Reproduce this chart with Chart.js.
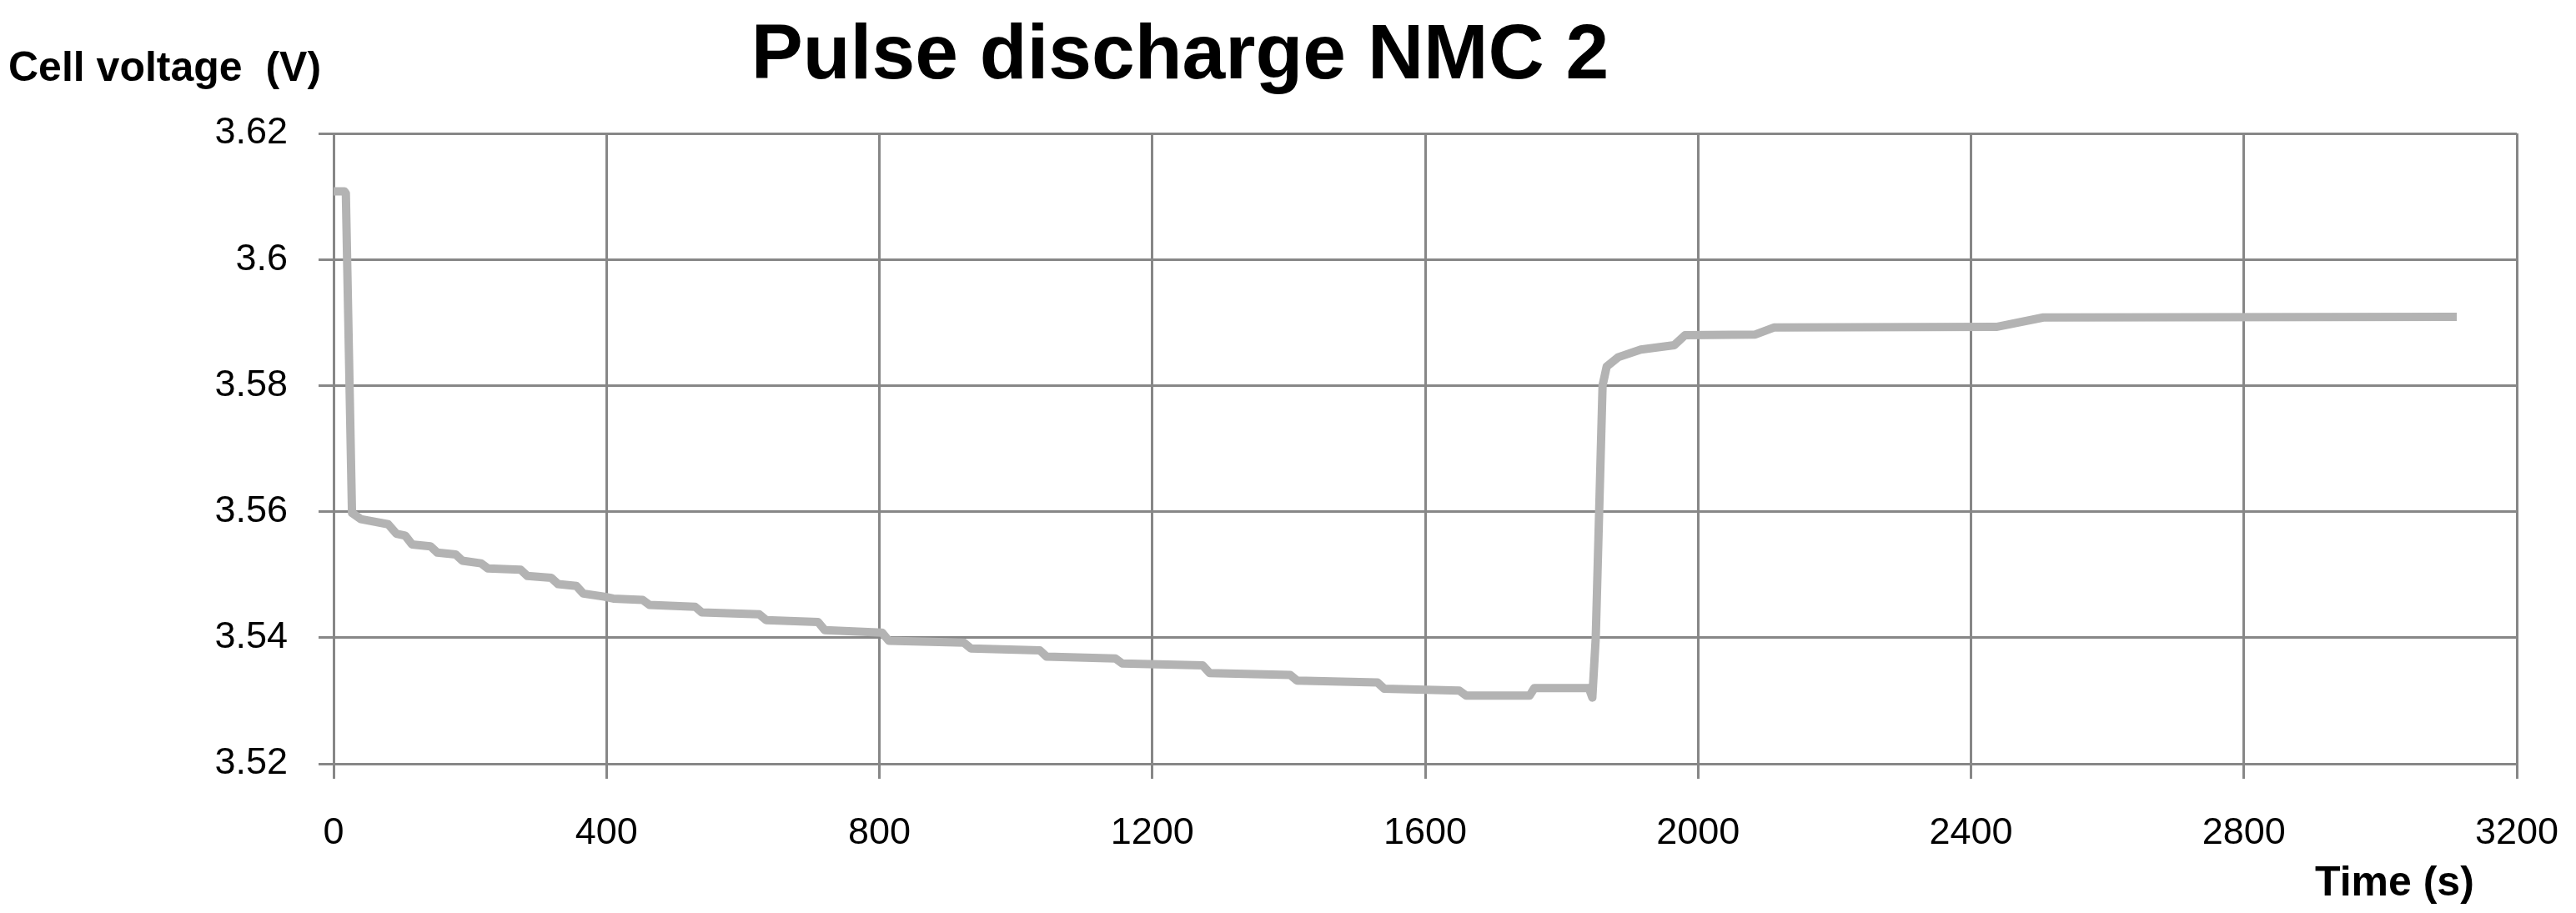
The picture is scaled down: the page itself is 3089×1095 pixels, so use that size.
<!DOCTYPE html>
<html>
<head>
<meta charset="utf-8">
<script src="https://cdn.jsdelivr.net/npm/chart.js@4.4.1/dist/chart.umd.min.js"></script>
<style>
html,body{margin:0;padding:0;background:#ffffff;overflow:hidden;}
#wrap{position:relative;width:3089px;height:1095px;}
canvas{display:block;}
</style>
</head>
<body>
<div id="wrap"><canvas id="c" width="3089" height="1095"></canvas></div>
<script>
// ---- Data ----
const chartTitle = 'Pulse discharge NMC 2';
const yAxisTitle = 'Cell voltage  (V)';
const xAxisTitle = 'Time (s)';

const timeS = [0, 16, 18, 27, 40, 80, 92, 105, 115, 142, 152, 179, 189, 216, 226, 274, 284, 319, 329, 356, 366, 397, 410, 453, 463, 530, 540, 624, 634, 710, 720, 804, 814, 924, 934, 1035, 1045, 1146, 1156, 1274, 1284, 1402, 1412, 1530, 1540, 1650, 1660, 1753, 1760, 1840, 1845, 1850, 1855, 1860, 1866, 1883, 1916, 1965, 1981, 2084, 2111, 2437, 2506, 3112];
const voltageV = [3.6108, 3.6108, 3.6105, 3.5598, 3.5588, 3.5580, 3.5565, 3.5562, 3.5548, 3.5545, 3.5535, 3.5532, 3.5522, 3.5518, 3.5510, 3.5508, 3.5498, 3.5495, 3.5485, 3.5482, 3.5470, 3.5465, 3.5462, 3.5460, 3.5452, 3.5449, 3.5440, 3.5437, 3.5428, 3.5425, 3.5412, 3.5408, 3.5395, 3.5392, 3.5383, 3.5380, 3.5370, 3.5367, 3.5359, 3.5356, 3.5344, 3.5341, 3.5332, 3.5329, 3.5319, 3.5316, 3.5308, 3.5308, 3.5320, 3.5320, 3.5305, 3.5400, 3.5600, 3.5800, 3.5830, 3.5845, 3.5857, 3.5864, 3.5880, 3.5881, 3.5892, 3.5893, 3.5908, 3.5909];

const xTickValues = [0, 400, 800, 1200, 1600, 2000, 2400, 2800, 3200];
const yTickValues = [3.52, 3.54, 3.56, 3.58, 3.60, 3.62];
const yTickLabels = ['3.52', '3.54', '3.56', '3.58', '3.6', '3.62'];

// ---- Styles ----
const gridColor = '#878787';
const lineColor = '#b3b3b3';
const tickFont = "'Liberation Sans', Arial, sans-serif";
const titleFont = "'Liberation Sans', Arial, sans-serif";

const points = timeS.map((t, i) => ({x: t, y: voltageV[i]}));

const textPlugin = {
  id: 'chartTexts',
  afterDraw(chart) {
    const ctx = chart.ctx;
    const a = chart.chartArea;
    ctx.save();
    ctx.fillStyle = '#000000';
    ctx.textBaseline = 'alphabetic';
    // main title
    ctx.font = 'bold 93px ' + titleFont;
    ctx.textAlign = 'center';
    ctx.fillText(chartTitle, a.left + 1015, a.top - 66);
    // y axis title (horizontal, top-left)
    ctx.font = 'bold 50px ' + titleFont;
    ctx.textAlign = 'left';
    ctx.fillText(yAxisTitle, 10, a.top - 63);
    // x axis title (bottom-right)
    ctx.fillText(xAxisTitle, a.right - 242, a.bottom + 158);
    ctx.restore();
  }
};

new Chart(document.getElementById('c'), {
  type: 'scatter',
  data: {
    datasets: [{
      label: 'Cell voltage',
      data: points,
      showLine: true,
      borderColor: lineColor,
      backgroundColor: lineColor,
      borderWidth: 10,
      pointRadius: 0,
      pointHoverRadius: 0,
      tension: 0,
      borderJoinStyle: 'round',
      borderCapStyle: 'butt'
    }]
  },
  options: {
    responsive: false,
    animation: false,
    devicePixelRatio: 1,
    layout: { padding: { top: 160, right: 71, bottom: 0, left: 0 } },
    plugins: {
      legend: { display: false },
      tooltip: { enabled: false },
      title: { display: false, text: chartTitle }
    },
    scales: {
      x: {
        type: 'linear',
        min: 0,
        max: 3200,
        afterBuildTicks(scale) { scale.ticks = xTickValues.map(v => ({value: v})); },
        afterFit(scale) { scale.height = 179; scale.paddingLeft = 0; scale.paddingRight = 0; },
        grid: { color: gridColor, lineWidth: 3, drawTicks: true, tickLength: 18, tickColor: gridColor, tickWidth: 3 },
        border: { color: gridColor, width: 3 },
        ticks: {
          color: '#000000',
          font: { family: tickFont, size: 45 },
          padding: 39,
          maxRotation: 0,
          autoSkip: false,
          callback: (v) => String(v)
        },
        title: { display: false, text: xAxisTitle }
      },
      y: {
        type: 'linear',
        min: 3.52,
        max: 3.62,
        afterBuildTicks(scale) { scale.ticks = yTickValues.map(v => ({value: v})); },
        afterFit(scale) { scale.width = 400; scale.paddingTop = 0; scale.paddingBottom = 0; },
        grid: { color: gridColor, lineWidth: 3, drawTicks: true, tickLength: 18, tickColor: gridColor, tickWidth: 3 },
        border: { color: gridColor, width: 3 },
        ticks: {
          color: '#000000',
          font: { family: tickFont, size: 45 },
          padding: 37,
          autoSkip: false,
          callback: (v) => {
            const i = yTickValues.findIndex(t => Math.abs(t - v) < 1e-9);
            return i >= 0 ? yTickLabels[i] : '';
          }
        },
        title: { display: false, text: yAxisTitle }
      }
    }
  },
  plugins: [textPlugin]
});
</script>
</body>
</html>
